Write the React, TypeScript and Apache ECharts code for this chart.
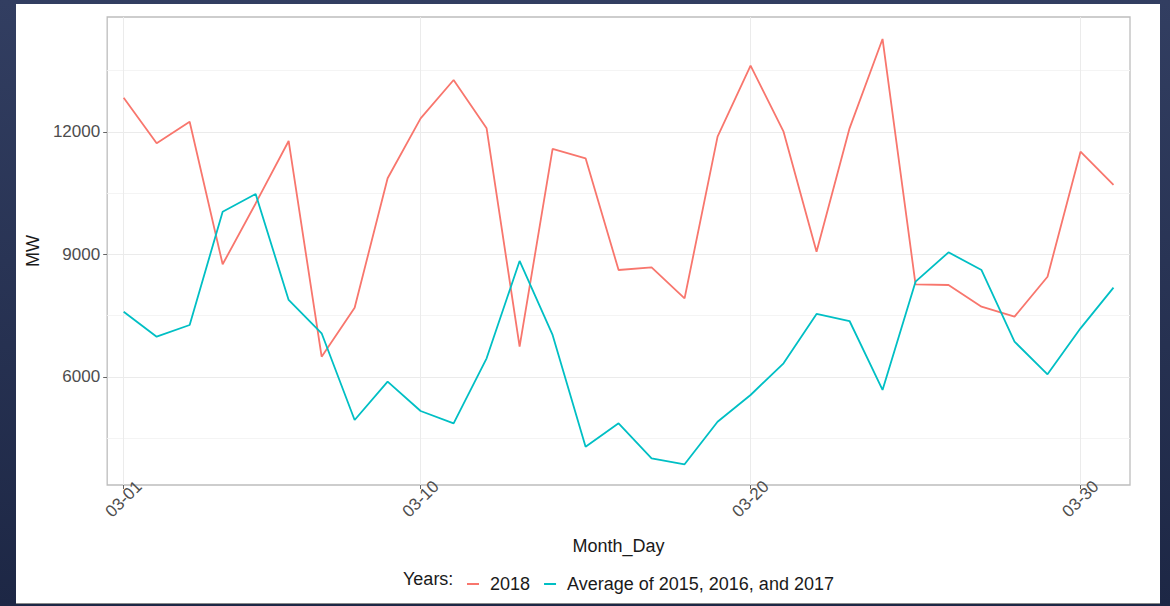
import React, { useEffect, useRef } from "react";
import * as echarts from "echarts";

const days = [
  "03-01", "03-02", "03-03", "03-04", "03-05", "03-06", "03-07", "03-08", "03-09", "03-10",
  "03-11", "03-12", "03-13", "03-14", "03-15", "03-16", "03-17", "03-18", "03-19", "03-20",
  "03-21", "03-22", "03-23", "03-24", "03-25", "03-26", "03-27", "03-28", "03-29", "03-30", "03-31",
];
const mw2018 = [
  12840, 11723, 12252, 8760, 10250, 11780, 6497, 7697, 10866, 12335,
  13273, 12090, 6742, 11584, 11355, 8620, 8686, 7927, 11885, 13624,
  12008, 9069, 12090, 14278, 8270, 8253, 7722, 7477, 8456, 11518, 10702,
];
const mwAvg = [
  7600, 6987, 7273, 10048, 10482, 7886, 7070, 4947, 5885, 5167,
  4866, 6458, 8841, 7029, 4293, 4866, 4009, 3862, 4905, 5559,
  6335, 7543, 7371, 5682, 8334, 9053, 8620, 6865, 6066, 7192, 8187,
];
const seriesNames = ["2018", "Average of 2015, 2016, and 2017"];
const shownDays = ["03-01", "03-10", "03-20", "03-30"];
const yLabels = [6000, 9000, 12000];

const FONT = "'Liberation Sans', Arial, sans-serif";
const Y_MIN = 3355;
const Y_MAX = 14816;

export default function App() {
  const ref = useRef<HTMLDivElement>(null);
  useEffect(() => {
    if (!ref.current) return;
    const chart = echarts.init(ref.current, null, { renderer: "svg" });
    const showIdx = (i: number) => shownDays.includes(days[i]);
    chart.setOption({
      animation: false,
      backgroundColor: "#ffffff",
      textStyle: { fontFamily: FONT },
      grid: {
        left: 89,
        top: 13,
        width: 1025,
        height: 468,
        show: true,
        borderColor: "#bdbdbd",
        borderWidth: 1.3,
        containLabel: false,
      },
      xAxis: {
        type: "category",
        data: days,
        boundaryGap: true,
        name: "Month_Day",
        nameLocation: "middle",
        nameGap: 52,
        nameTextStyle: { fontSize: 18, color: "#1a1a1a", fontFamily: FONT },
        axisLine: { show: false },
        axisTick: {
          show: true,
          alignWithLabel: true,
          interval: (i: number) => showIdx(i),
          length: 4,
          lineStyle: { color: "#666" },
        },
        axisLabel: {
          interval: (i: number) => showIdx(i),
          rotate: 45,
          align: "center",
          verticalAlign: "middle",
          margin: 14,
          fontSize: 17,
          color: "#4d4d4d",
          fontFamily: FONT,
        },
        splitLine: {
          show: true,
          alignWithLabel: true,
          interval: (i: number) => showIdx(i),
          lineStyle: { color: "#ebebeb", width: 1 },
        },
      },
      yAxis: [
        {
          type: "value",
          min: Y_MIN,
          max: Y_MAX,
          name: "MW",
          nameLocation: "middle",
          nameGap: 54,
          nameTextStyle: { fontSize: 18, color: "#1a1a1a", fontFamily: FONT },
          axisLine: { show: false },
          axisTick: {
            show: true,
            customValues: yLabels,
            length: 4,
            lineStyle: { color: "#666" },
          },
          axisLabel: {
            customValues: yLabels,
            formatter: (v: number) => String(v),
            margin: 7,
            fontSize: 17,
            color: "#4d4d4d",
            fontFamily: FONT,
          },
          splitLine: { show: false },
        },
        {
          type: "value",
          min: Y_MIN,
          max: Y_MAX,
          minInterval: 1500,
          maxInterval: 1500,
          position: "left",
          axisLine: { show: false },
          axisTick: { show: false },
          axisLabel: { show: false },
          splitLine: {
            show: true,
            showMinLine: false,
            showMaxLine: false,
            lineStyle: { color: ["#f4f4f4", "#ebebeb"], width: 1 },
          },
        },
      ],
      legend: {
        data: seriesNames,
        left: 446,
        top: 566,
        icon: "rect",
        itemWidth: 12,
        itemHeight: 2,
        itemGap: 14,
        textStyle: { fontSize: 18, color: "#1a1a1a", fontFamily: FONT, padding: [0, 0, 0, 6] },
      },
      graphic: [
        {
          type: "text",
          left: 387,
          top: 566,
          style: { text: "Years:", fontSize: 18, fill: "#1a1a1a", fontFamily: FONT },
        },
      ],
      series: [
        {
          name: seriesNames[0],
          type: "line",
          data: mw2018,
          yAxisIndex: 0,
          showSymbol: false,
          symbol: "none",
          lineStyle: { color: "#F8766D", width: 1.8 },
          itemStyle: { color: "#F8766D" },
        },
        {
          name: seriesNames[1],
          type: "line",
          data: mwAvg,
          yAxisIndex: 0,
          showSymbol: false,
          symbol: "none",
          lineStyle: { color: "#00BFC4", width: 1.8 },
          itemStyle: { color: "#00BFC4" },
        },
      ],
    });
    return () => chart.dispose();
  }, []);

  return (
    <div
      style={{
        position: "fixed",
        left: 0,
        top: 0,
        width: 1170,
        height: 606,
        background: "linear-gradient(to bottom, #323e61, #1d2745)",
        overflow: "hidden",
      }}
    >
      <div
        ref={ref}
        style={{
          position: "absolute",
          left: 16,
          top: 4,
          width: 1144,
          height: 600,
          background: "#ffffff",
          borderBottom: "1px solid #8a8a8a",
          boxSizing: "border-box",
        }}
      />
    </div>
  );
}
